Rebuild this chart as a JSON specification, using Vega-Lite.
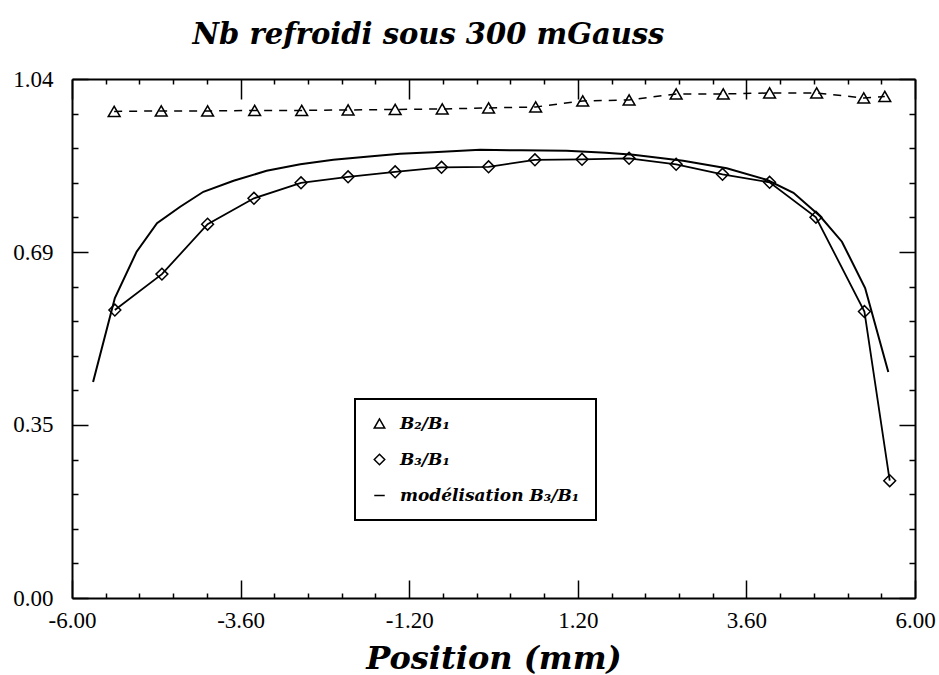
{
  "$schema": "https://vega.github.io/schema/vega-lite/v6.json",
  "width": 843,
  "height": 519,
  "autosize": {"type": "none"},
  "padding": {"left": 72, "top": 79, "right": 24, "bottom": 77},
  "background": "white",
  "title": {
    "text": "Nb refroidi sous 300 mGauss",
    "font": "DejaVu Serif",
    "fontSize": 29,
    "fontStyle": "italic",
    "fontWeight": "bold",
    "color": "black",
    "anchor": "middle",
    "dx": -65,
    "dy": 41,
    "baseline": "alphabetic",
    "offset": 36
  },
  "data": {
    "values": [
      {"serie": "B₂/B₁", "x": -5.40, "y": 0.975},
      {"serie": "B₂/B₁", "x": -4.73, "y": 0.976},
      {"serie": "B₂/B₁", "x": -4.07, "y": 0.976},
      {"serie": "B₂/B₁", "x": -3.40, "y": 0.977},
      {"serie": "B₂/B₁", "x": -2.73, "y": 0.977},
      {"serie": "B₂/B₁", "x": -2.07, "y": 0.978},
      {"serie": "B₂/B₁", "x": -1.40, "y": 0.979},
      {"serie": "B₂/B₁", "x": -0.73, "y": 0.980},
      {"serie": "B₂/B₁", "x": -0.07, "y": 0.982},
      {"serie": "B₂/B₁", "x": 0.60, "y": 0.984},
      {"serie": "B₂/B₁", "x": 1.27, "y": 0.996},
      {"serie": "B₂/B₁", "x": 1.93, "y": 0.998},
      {"serie": "B₂/B₁", "x": 2.60, "y": 1.010},
      {"serie": "B₂/B₁", "x": 3.27, "y": 1.010},
      {"serie": "B₂/B₁", "x": 3.93, "y": 1.012},
      {"serie": "B₂/B₁", "x": 4.60, "y": 1.012},
      {"serie": "B₂/B₁", "x": 5.27, "y": 1.002},
      {"serie": "B₂/B₁", "x": 5.57, "y": 1.005},
      {"serie": "B₃/B₁", "x": -5.39, "y": 0.577},
      {"serie": "B₃/B₁", "x": -4.72, "y": 0.649},
      {"serie": "B₃/B₁", "x": -4.07, "y": 0.749},
      {"serie": "B₃/B₁", "x": -3.41, "y": 0.801},
      {"serie": "B₃/B₁", "x": -2.74, "y": 0.832},
      {"serie": "B₃/B₁", "x": -2.07, "y": 0.844},
      {"serie": "B₃/B₁", "x": -1.40, "y": 0.854},
      {"serie": "B₃/B₁", "x": -0.74, "y": 0.863},
      {"serie": "B₃/B₁", "x": -0.07, "y": 0.864},
      {"serie": "B₃/B₁", "x": 0.59, "y": 0.878},
      {"serie": "B₃/B₁", "x": 1.26, "y": 0.879},
      {"serie": "B₃/B₁", "x": 1.93, "y": 0.881},
      {"serie": "B₃/B₁", "x": 2.60, "y": 0.869},
      {"serie": "B₃/B₁", "x": 3.26, "y": 0.849},
      {"serie": "B₃/B₁", "x": 3.93, "y": 0.833},
      {"serie": "B₃/B₁", "x": 4.59, "y": 0.763},
      {"serie": "B₃/B₁", "x": 5.28, "y": 0.574},
      {"serie": "B₃/B₁", "x": 5.64, "y": 0.235},
      {"serie": "modélisation B₃/B₁", "x": -5.70, "y": 0.433},
      {"serie": "modélisation B₃/B₁", "x": -5.39, "y": 0.601},
      {"serie": "modélisation B₃/B₁", "x": -5.08, "y": 0.694},
      {"serie": "modélisation B₃/B₁", "x": -4.79, "y": 0.751},
      {"serie": "modélisation B₃/B₁", "x": -4.46, "y": 0.784},
      {"serie": "modélisation B₃/B₁", "x": -4.13, "y": 0.814},
      {"serie": "modélisation B₃/B₁", "x": -3.70, "y": 0.836},
      {"serie": "modélisation B₃/B₁", "x": -3.23, "y": 0.856},
      {"serie": "modélisation B₃/B₁", "x": -2.75, "y": 0.869},
      {"serie": "modélisation B₃/B₁", "x": -2.28, "y": 0.878},
      {"serie": "modélisation B₃/B₁", "x": -1.81, "y": 0.884},
      {"serie": "modélisation B₃/B₁", "x": -1.33, "y": 0.890},
      {"serie": "modélisation B₃/B₁", "x": -0.86, "y": 0.893},
      {"serie": "modélisation B₃/B₁", "x": -0.19, "y": 0.898},
      {"serie": "modélisation B₃/B₁", "x": 0.40, "y": 0.897},
      {"serie": "modélisation B₃/B₁", "x": 1.04, "y": 0.896},
      {"serie": "modélisation B₃/B₁", "x": 1.60, "y": 0.892},
      {"serie": "modélisation B₃/B₁", "x": 1.99, "y": 0.888},
      {"serie": "modélisation B₃/B₁", "x": 2.70, "y": 0.876},
      {"serie": "modélisation B₃/B₁", "x": 3.32, "y": 0.861},
      {"serie": "modélisation B₃/B₁", "x": 3.89, "y": 0.838},
      {"serie": "modélisation B₃/B₁", "x": 4.27, "y": 0.812},
      {"serie": "modélisation B₃/B₁", "x": 4.65, "y": 0.765},
      {"serie": "modélisation B₃/B₁", "x": 4.96, "y": 0.714},
      {"serie": "modélisation B₃/B₁", "x": 5.29, "y": 0.621},
      {"serie": "modélisation B₃/B₁", "x": 5.62, "y": 0.453}
    ]
  },
  "layer": [
    {
      "transform": [{"filter": {"field": "serie", "equal": "B₂/B₁"}}],
      "mark": {"type": "line", "color": "black", "strokeWidth": 1.5, "strokeDash": [8, 7]},
      "encoding": {
        "x": {
          "field": "x", "type": "quantitative",
          "scale": {"domain": [-6, 6], "nice": false, "zero": false},
          "axis": {
            "orient": "bottom",
            "values": [-6, -5.52, -5.04, -4.56, -4.08, -3.6, -3.12, -2.64, -2.16, -1.68, -1.2, -0.72, -0.24, 0.24, 0.72, 1.2, 1.68, 2.16, 2.64, 3.12, 3.6, 4.08, 4.56, 5.04, 5.52, 6],
            "labelExpr": "indexof([-6, -3.6, -1.2, 1.2, 3.6, 6], datum.value) >= 0 ? replace(format(datum.value, '.2f'), '−', '-') : ''",
            "tickSize": {"condition": {"test": "indexof([-6, -3.6, -1.2, 1.2, 3.6, 6], datum.value) >= 0", "value": -18}, "value": -5},
            "labelPadding": 29,
            "title": "Position (mm)",
            "titleFont": "DejaVu Serif",
            "titleFontSize": 32,
            "titleFontStyle": "italic",
            "titleFontWeight": "bold",
            "titleColor": "black",
            "titleBaseline": "alphabetic",
            "titleY": 70
          }
        },
        "y": {
          "field": "y", "type": "quantitative",
          "scale": {"domain": [0, 1.04], "nice": false, "zero": false},
          "axis": {
            "orient": "left",
            "values": [0, 0.06933, 0.13867, 0.208, 0.27733, 0.34667, 0.416, 0.48533, 0.55467, 0.624, 0.69333, 0.76267, 0.832, 0.90133, 0.97067, 1.04],
            "labelExpr": "indexof([0, 0.34667, 0.69333, 1.04], datum.value) >= 0 ? format(datum.value, '.2f') : ''",
            "tickSize": {"condition": {"test": "indexof([0, 0.34667, 0.69333, 1.04], datum.value) >= 0", "value": -16}, "value": -6},
            "labelPadding": 35,
            "title": null
          }
        }
      }
    },
    {
      "transform": [{"filter": {"field": "serie", "equal": "modélisation B₃/B₁"}}],
      "mark": {"type": "line", "color": "black", "strokeWidth": 2},
      "encoding": {
        "x": {
          "field": "x", "type": "quantitative",
          "axis": {
            "orient": "top",
            "values": [-6, -5.52, -5.04, -4.56, -4.08, -3.6, -3.12, -2.64, -2.16, -1.68, -1.2, -0.72, -0.24, 0.24, 0.72, 1.2, 1.68, 2.16, 2.64, 3.12, 3.6, 4.08, 4.56, 5.04, 5.52, 6],
            "labels": false,
            "tickSize": {"condition": {"test": "indexof([-6, -3.6, -1.2, 1.2, 3.6, 6], datum.value) >= 0", "value": -20}, "value": -5},
            "title": null
          }
        },
        "y": {
          "field": "y", "type": "quantitative",
          "axis": {
            "orient": "right",
            "values": [0, 0.06933, 0.13867, 0.208, 0.27733, 0.34667, 0.416, 0.48533, 0.55467, 0.624, 0.69333, 0.76267, 0.832, 0.90133, 0.97067, 1.04],
            "labels": false,
            "tickSize": {"condition": {"test": "indexof([0, 0.34667, 0.69333, 1.04], datum.value) >= 0", "value": -16}, "value": -6},
            "title": null
          }
        }
      }
    },
    {
      "transform": [{"filter": {"field": "serie", "equal": "B₃/B₁"}}],
      "mark": {"type": "line", "color": "black", "strokeWidth": 1.8},
      "encoding": {
        "x": {"field": "x", "type": "quantitative", "axis": null},
        "y": {"field": "y", "type": "quantitative", "axis": null}
      }
    },
    {
      "transform": [{"filter": {"field": "serie", "oneOf": ["B₂/B₁", "B₃/B₁"]}}],
      "mark": {"type": "point", "filled": false, "color": "black", "strokeWidth": 1.5, "size": 140, "opacity": 1},
      "encoding": {
        "x": {"field": "x", "type": "quantitative", "axis": null},
        "y": {"field": "y", "type": "quantitative", "axis": null},
        "shape": {
          "field": "serie", "type": "nominal",
          "scale": {"domain": ["B₂/B₁", "B₃/B₁", "modélisation B₃/B₁"], "range": ["triangle-up", "diamond", "stroke"]},
          "legend": {"title": null, "orient": "none", "legendX": 283, "legendY": 320}
        }
      }
    }
  ],
  "resolve": {"axis": {"x": "independent", "y": "independent"}},
  "config": {
    "view": {"stroke": null},
    "axis": {
      "domainColor": "black",
      "domainWidth": 2,
      "tickColor": "black",
      "tickWidth": 1.5,
      "grid": false,
      "labelFont": "Liberation Serif",
      "labelFontSize": 23,
      "labelColor": "black",
      "labelFlush": false,
      "labelOverlap": false
    },
    "legend": {
      "strokeColor": "black",
      "strokeWidth": 2,
      "fillColor": "white",
      "padding": 16,
      "rowPadding": 18,
      "labelOffset": 12,
      "labelLimit": 400,
      "labelFont": "DejaVu Serif",
      "labelFontSize": 17,
      "labelFontStyle": "italic",
      "labelFontWeight": "bold",
      "labelColor": "black",
      "symbolSize": 110,
      "symbolStrokeColor": "black",
      "symbolStrokeWidth": 1.5
    }
  }
}
